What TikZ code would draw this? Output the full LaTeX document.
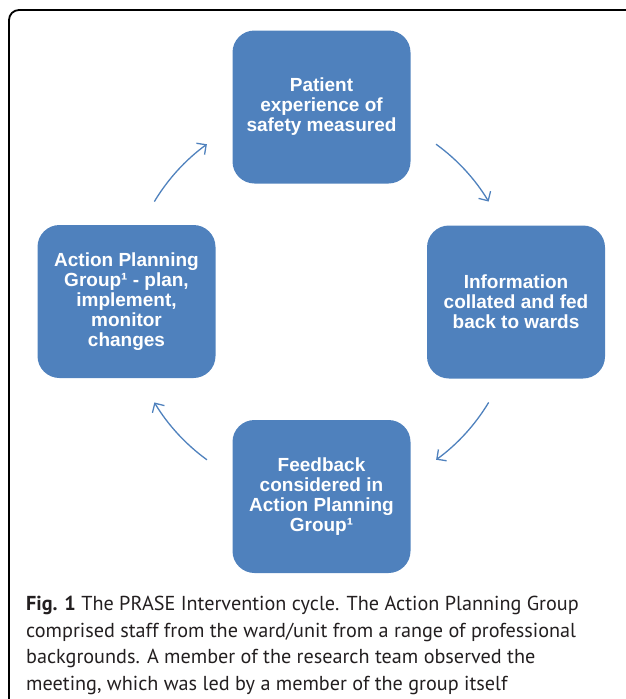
\documentclass[tikz,border=0pt]{standalone}
\usepackage{fontspec}
\setmainfont{Liberation Sans}
\newfontfamily\capfont{PT Sans}
\usetikzlibrary{arrows.meta,calc}
\definecolor{boxblue}{HTML}{4F81BD}
\definecolor{captext}{HTML}{231F20}

\tikzset{
  stage/.style={fill=boxblue, text=white, rounded corners=22pt, minimum width=178pt, minimum height=153pt, inner sep=0pt, align=center, font=\fontsize{19}{20}\selectfont\bfseries},
  cyc/.style={draw=boxblue, line width=1.3pt, -{Straight Barb[length=7pt,width=14pt]}}
}

\begin{document}
\begin{tikzpicture}[x=1pt,y=-1pt]
\useasboundingbox (0,0) rectangle (625,699);

\coordinate (M) at (321.5,302);
\coordinate (T) at (321.5,107);
\coordinate (R) at (516,302);
\coordinate (B) at (321.5,496.5);
\coordinate (L) at (126.5,301.5);

\draw[line width=1.8pt, rounded corners=10pt] (9,720) -- (9,10) -- (660,10);

\node[stage] (patient) at (T) {Patient\\experience of\\safety measured};
\node[stage] (info) at (R) {Information\\collated and fed\\back to wards};
\node[stage] (feedback) at (B) {Feedback\\considered in\\Action Planning\\Group¹};
\node[stage] (action) at (L) {Action Planning\\Group¹ - plan,\\implement,\\monitor\\changes};

\coordinate (a1) at ($(M)+(-149:195)$);
\coordinate (a2) at ($(M)+(-54:195)$);
\coordinate (a3) at ($(M)+(31:195)$);
\coordinate (a4) at ($(M)+(126:195)$);

\draw[cyc] (a1) arc[start angle=-149, end angle=-126, radius=195];
\draw[cyc] (a2) arc[start angle=-54, end angle=-31, radius=195];
\draw[cyc] (a3) arc[start angle=31, end angle=54, radius=195];
\draw[cyc] (a4) arc[start angle=126, end angle=149, radius=195];

\node[anchor=north west, align=left, inner sep=0pt, text=captext, font=\capfont\fontsize{20.2}{26.6}\selectfont] (caption) at (26,596) {\textbf{Fig. 1} The PRASE Intervention cycle. The Action Planning Group\\comprised staff from the ward/unit from a range of professional\\backgrounds. A member of the research team observed the\\meeting, which was led by a member of the group itself};
\end{tikzpicture}
\end{document}
